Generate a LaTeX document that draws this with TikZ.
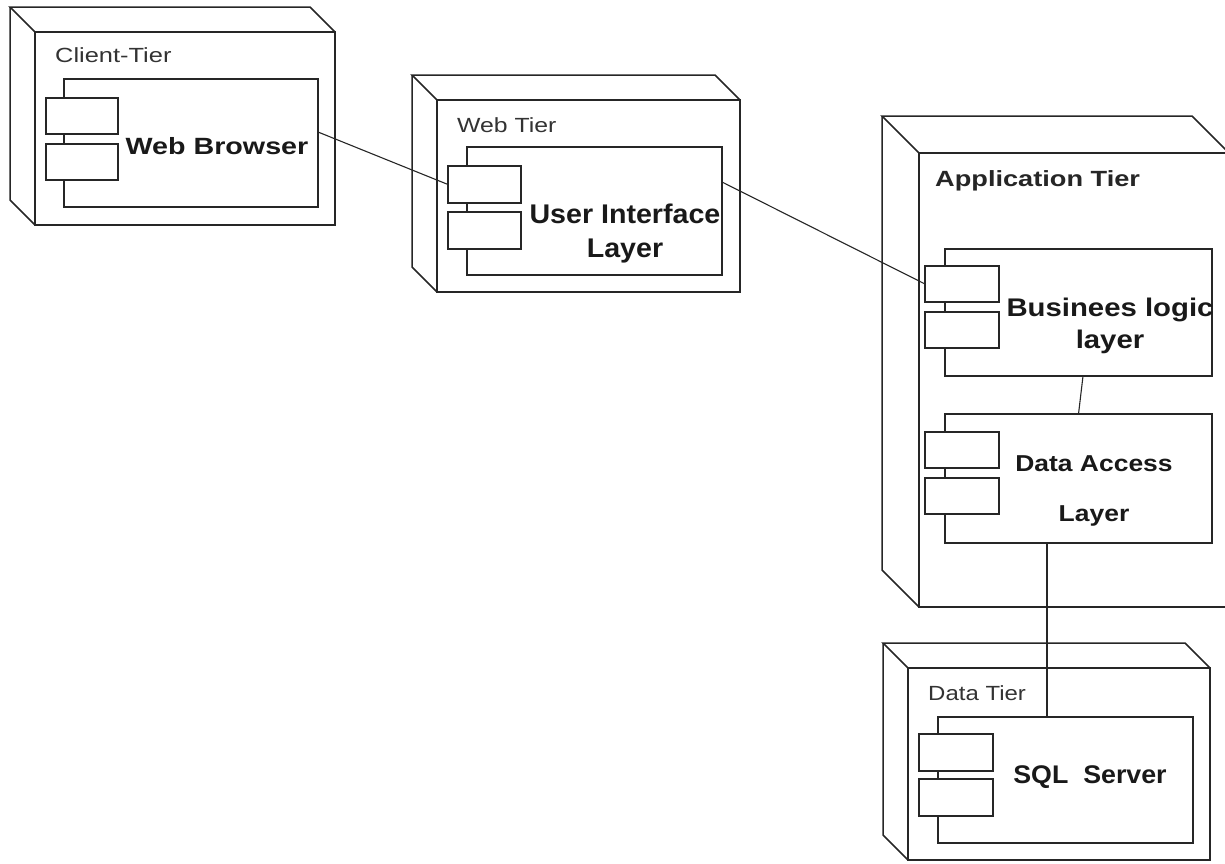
\documentclass[tikz,border=0pt]{standalone}
\usepackage{fontspec}
\setmainfont{Liberation Sans}
\usetikzlibrary{calc}
\newcommand\sx[2][1.15]{\scalebox{#1}[1]{#2}}
\tikzset{
  edge/.style={line width=1.5pt, draw=black!85},
  link/.style={line width=1.1pt, draw=black!85},
  box/.style 2 args={draw=black!85, line width=1.5pt, inner sep=0pt, outer sep=0pt,
    minimum width=#1, minimum height=#2, fill=white},
  title/.style={anchor=base west, inner sep=0pt, text=black!80, font=\fontsize{20.5}{24}\selectfont},
  btitle/.style={anchor=base west, inner sep=0pt, text=black!85, font=\bfseries\fontsize{22}{26}\selectfont},
  clabel/.style={anchor=base, align=center, text=black!90, font=\bfseries\fontsize{#1}{#1}\selectfont},
}
\newcommand\nodedepth[2]{%
  \draw[edge] (#1.north west) -- ++(-#2,-#2) coordinate (#1-b)
     -- ($(#1.north east)+(-#2,-#2)$) -- (#1.north east);
  \draw[edge] (#1-b) -- ($(#1.south west)+(-#2,-#2)$) -- (#1.south west);}
\begin{document}
\begin{tikzpicture}[x=1pt,y=-1pt]
\useasboundingbox (0,0) rectangle (1225,863);

% Client tier
\node[box={300pt}{193pt}] (client) at (185,128.5) {};
\nodedepth{client}{25}
\node[title] (clientT) at (55,62) {\sx[1.24]{Client-Tier}};
\node[box={254pt}{128pt}] (wb) at (191,143) {};
\node[box={72pt}{36pt}] (wb1) at (82,116) {};
\node[box={72pt}{36pt}] (wb2) at (82,162) {};
\node[clabel=23.5] (wbL) at (217,154) {\sx[1.22]{Web Browser}};

% Web tier
\node[box={303pt}{192pt}] (web) at (588.5,196) {};
\nodedepth{web}{25}
\node[title] (webT) at (457,132) {\sx[1.21]{Web Tier}};
\node[box={255pt}{128pt}] (ui) at (594.5,211) {};
\node[box={73pt}{37pt}] (ui1) at (484.5,184.5) {};
\node[box={73pt}{37pt}] (ui2) at (484.5,230.5) {};
\node[clabel=27] (uiL) at (625,257) {\sx[1.06]{User Interface}\\[7pt]\sx[1.06]{Layer}};

% Application tier
\node[box={310pt}{454pt}] (app) at (1074,380) {};
\nodedepth{app}{37}
\node[btitle] (appT) at (935,186) {\sx[1.235]{Application Tier}};
\node[box={267pt}{127pt}] (biz) at (1078.5,312.5) {};
\node[box={74pt}{36pt}] (biz1) at (962,284) {};
\node[box={74pt}{36pt}] (biz2) at (962,330) {};
\node[clabel=25.5] (bizL) at (1110,348) {\sx{Businees logic}\\[6pt]\sx{layer}};
\node[box={267pt}{129pt}] (dal) at (1078.5,478.5) {};
\node[box={74pt}{36pt}] (dal1) at (962,450) {};
\node[box={74pt}{36pt}] (dal2) at (962,496) {};
\node[clabel=23] (dalL) at (1094,521) {\sx{Data Access}\\[27pt]\sx{Layer}};

% Data tier
\node[box={302pt}{192pt}] (data) at (1059,764) {};
\nodedepth{data}{25}
\node[title] (dataT) at (928,700) {\sx[1.17]{Data Tier}};
\node[box={255pt}{126pt}] (sql) at (1065.5,780) {};
\node[box={74pt}{37pt}] (sql1) at (956,752.5) {};
\node[box={74pt}{37pt}] (sql2) at (956,797.5) {};
\node[clabel=25.5] (sqlL) at (1090,783) {\sx[1.05]{SQL\ \ Server}};

% connectors
\draw[link] ([yshift=11pt]wb.east) -- (ui1.west);
\draw[link] ([yshift=29pt]ui.east) -- (biz1.west);
\draw[link] ([xshift=4.5pt]biz.south) -- (dal.north);
\draw[link] ([xshift=-31.5pt]dal.south) -- ([xshift=-31.5pt]dal.south |- sql.north);
\end{tikzpicture}
\end{document}
